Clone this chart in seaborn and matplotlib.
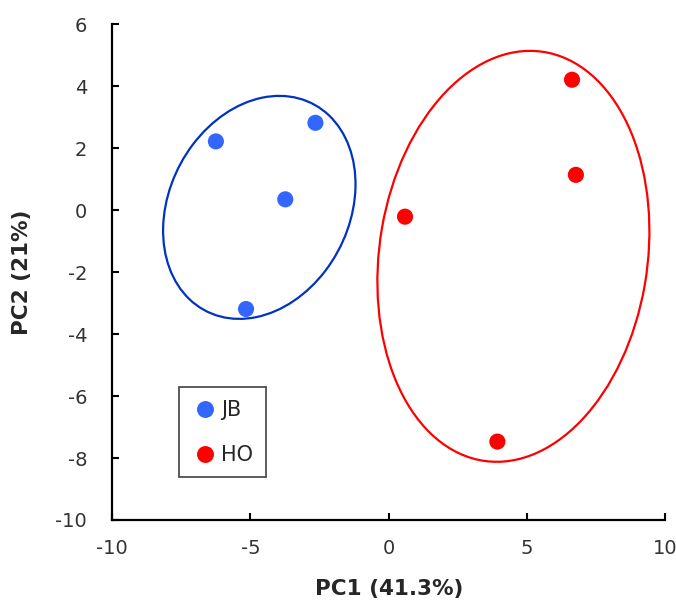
import pandas as pd
import seaborn as sns
import matplotlib.pyplot as plt
from matplotlib.patches import Ellipse

# scores
jb_pc1 = [-6.25, -2.65, -3.74, -5.16]
jb_pc2 = [2.22, 2.82, 0.35, -3.19]
ho_pc1 = [6.63, 6.77, 0.59, 3.93]
ho_pc2 = [4.21, 1.14, -0.21, -7.47]

# hand drawn group ellipses (centre, full axes, angle in degrees)
ell_group = ['JB', 'HO']
ell_cx = [-4.68, 4.51]
ell_cy = [0.09, -1.49]
ell_w = [7.79, 13.38]
ell_h = [6.29, 9.68]
ell_angle = [49.6, 79.0]

x_ticks = [-10, -5, 0, 5, 10]
y_ticks = [-10, -8, -6, -4, -2, 0, 2, 4, 6]

df = pd.DataFrame({
    'PC1': jb_pc1 + ho_pc1,
    'PC2': jb_pc2 + ho_pc2,
    'grupo': ['JB'] * len(jb_pc1) + ['HO'] * len(ho_pc1),
})

cores = {'JB': '#3366FF', 'HO': '#FF0000'}
cores_elipse = {'JB': '#0033C0', 'HO': '#FF0000'}

sns.set_style('ticks')
plt.rcParams['font.family'] = ['DejaVu Sans']
plt.rcParams['axes.unicode_minus'] = False

fig, ax = plt.subplots(figsize=(6.76, 6.01), dpi=100)
fig.subplots_adjust(left=0.166, right=0.984, top=0.9596, bottom=0.1348)

sns.scatterplot(data=df, x='PC1', y='PC2', hue='grupo', palette=cores,
                s=135, linewidth=0, ax=ax)

for g, cx, cy, w, h, a in zip(ell_group, ell_cx, ell_cy, ell_w, ell_h, ell_angle):
    ax.add_patch(Ellipse((cx, cy), w, h, angle=a, fill=False,
                         edgecolor=cores_elipse[g], linewidth=1.6))

ax.set_xlim(-10, 10)
ax.set_ylim(-10, 6)
ax.set_xticks(x_ticks)
ax.set_yticks(y_ticks)
ax.tick_params(direction='in', length=5, width=1.5, labelsize=14,
               labelcolor='#333333', color='black')
ax.tick_params(axis='x', pad=14)
ax.tick_params(axis='y', pad=18)

for s in ['top', 'right']:
    ax.spines[s].set_visible(False)
for s in ['left', 'bottom']:
    ax.spines[s].set_linewidth(1.6)
    ax.spines[s].set_color('black')

ax.set_xlabel('PC1 (41.3%)', fontsize=15.5, fontweight='bold', labelpad=15)
ax.set_ylabel('PC2 (21%)', fontsize=15.5, fontweight='bold', labelpad=17)

sns.move_legend(ax, 'lower left', bbox_to_anchor=(0.12, 0.086), title=None,
                frameon=True, fancybox=False, fontsize=15, borderaxespad=0,
                borderpad=0.6, labelspacing=1.2, handletextpad=0.15,
                handlelength=1.3, markerscale=1.05)
leg = ax.get_legend()
leg.get_frame().set_edgecolor('#222222')
leg.get_frame().set_linewidth(1.3)

plt.savefig('out.png', dpi=100)
